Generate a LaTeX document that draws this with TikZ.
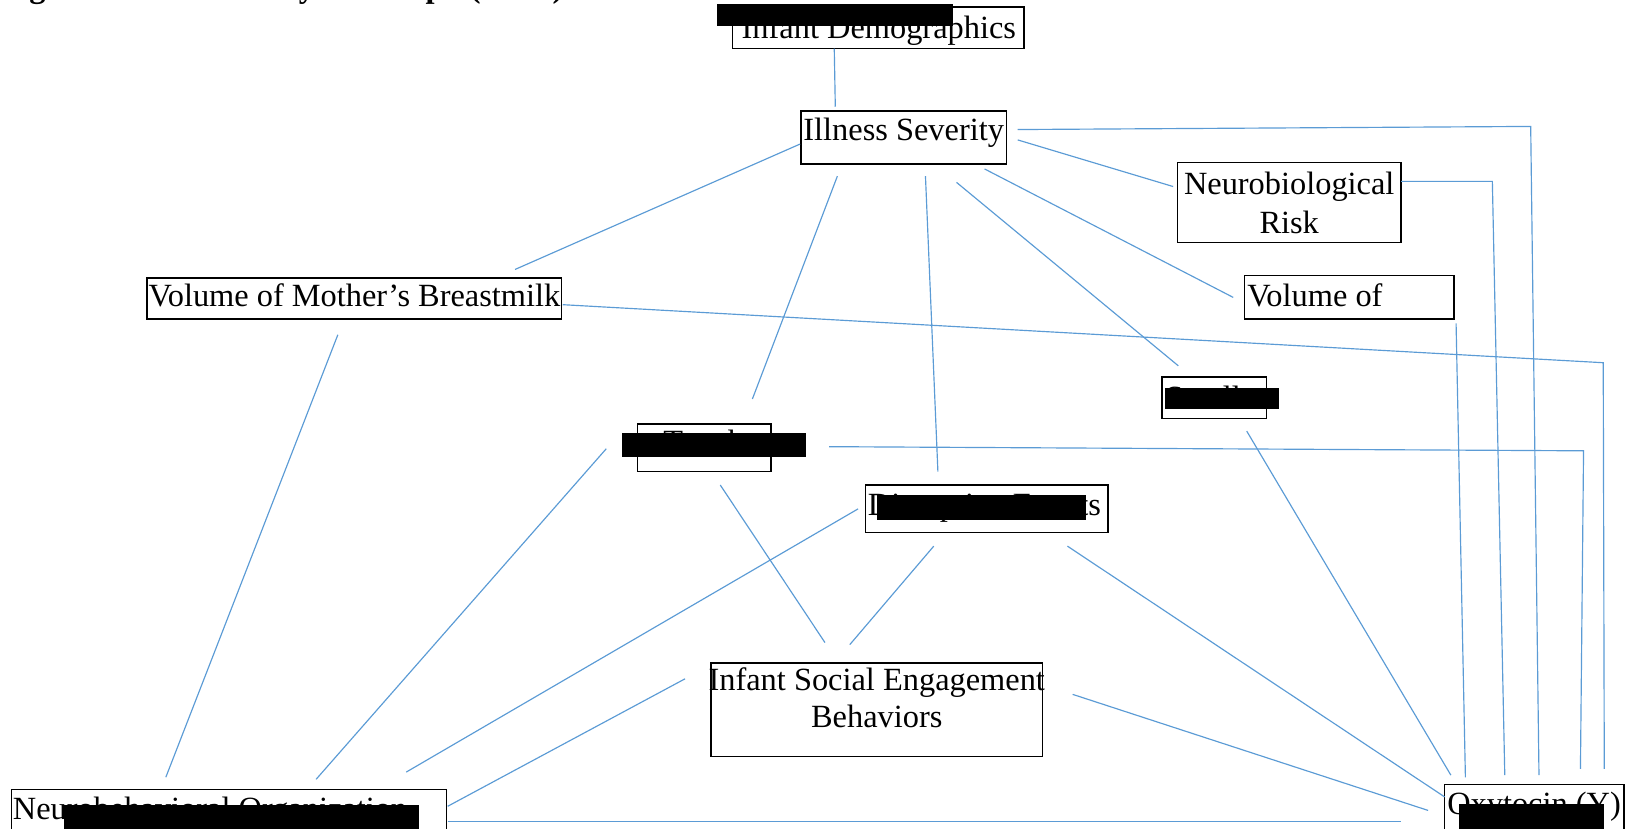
\documentclass[tikz,border=0pt]{standalone}
\usepackage{fontspec}
\setmainfont{Liberation Serif}
\usetikzlibrary{fit}
\begin{document}
\begin{tikzpicture}[x=0.4pt,y=-0.4pt,
  box/.style={draw=black,line width=0.6pt,inner sep=0pt,fill=none},
  blk/.style={fill=black,inner sep=0pt},
  txt/.style={inner sep=0pt,font=\fontsize{12.5}{14.6}\selectfont},
  conn/.style={draw={rgb,255:red,91;green,155;blue,213},line width=0.45pt}]
\useasboundingbox (0,0) rectangle (1568,799);
% title (cut off at top)
\node[txt,anchor=base west,font=\fontsize{12.5}{14.6}\selectfont\bfseries] (title) at (0,-2) {Figure 1. Directed Acyclic Graph (DAG)};
% boxes
\node[box,fit={(707,7)(988,47)}] (dem) {};
\node[box,fit={(773,107)(971,158)}] (ill) {};
\node[box,fit={(1136,157)(1352,234)}] (neu) {};
\node[box,fit={(1201,266)(1403,308)}] (vol) {};
\node[box,fit={(142,268)(542,308)}] (vmb) {};
\node[box,fit={(1121,364)(1222,404)}] (sen) {};
\node[box,fit={(615,409)(744,455)}] (tou) {};
\node[box,fit={(835,468)(1069,514)}] (dis) {};
\node[box,fit={(686,640)(1006,730)}] (ise) {};
\node[box,fit={(11,762)(431,815)}] (nbo) {};
\node[box,fit={(1394,757)(1567,815)}] (oxy) {};
% texts
\node[txt,anchor=base] (demT) at (848,37) {Infant Demographics};
\node[txt,anchor=base] (illT) at (872,136) {Illness Severity};
\node[txt,anchor=base] (neuT1) at (1244,188) {Neurobiological};
\node[txt,anchor=base] (neuT2) at (1244,225) {Risk};
\node[txt,anchor=base west] (volT) at (1203,296) {Volume of};
\node[txt,anchor=base] (vmbT) at (342,296) {Volume of Mother’s Breastmilk};
\node[txt,anchor=base west] (senT) at (1124,394) {Smell};
\node[txt,anchor=base] (touT) at (679,437) {Touch};
\node[txt,anchor=base west] (disT) at (837,497) {Disruptive Events};
\node[txt,anchor=base] (iseT1) at (846,666) {Infant Social Engagement};
\node[txt,anchor=base] (iseT2) at (846,702) {Behaviors};
\node[txt,anchor=base west] (nboT) at (12,791) {Neurobehavioral Organization};
\node[txt,anchor=base west] (oxyT) at (1396,786) {Oxytocin (Y)};
% redaction bars
\node[blk,fit={(692,4)(920,25)}] (r1) {};
\node[blk,fit={(1124,374)(1234,395)}] (r2) {};
\node[blk,fit={(600,418)(778,441)}] (r3) {};
\node[blk,fit={(846,478)(1048,502)}] (r4) {};
\node[blk,fit={(62,777)(404,805)}] (r5) {};
\node[blk,fit={(1408,776)(1548,805)}] (r6) {};
% connector end points
\coordinate (a1) at (805,47);   \coordinate (b1) at (806,103);
\coordinate (a2) at (772,139);  \coordinate (b2) at (497,260);
\coordinate (a3) at (808,170);  \coordinate (b3) at (726,385);
\coordinate (a4) at (893,170);  \coordinate (b4) at (905,455);
\coordinate (a5) at (923,176);  \coordinate (b5) at (1137,353);
\coordinate (a6) at (950,163);  \coordinate (b6) at (1190,287);
\coordinate (a7) at (982,135);  \coordinate (b7) at (1132,180);
\coordinate (a8) at (982,125);  \coordinate (k8) at (1477,122); \coordinate (b8) at (1485,748);
\coordinate (a9) at (1352,175); \coordinate (k9) at (1440,175); \coordinate (b9) at (1452,748);
\coordinate (a10) at (1405,312); \coordinate (b10) at (1414,750);
\coordinate (a11) at (543,294); \coordinate (k11) at (1547,350); \coordinate (b11) at (1548,742);
\coordinate (a12) at (800,431); \coordinate (k12) at (1528,435); \coordinate (b12) at (1525,742);
\coordinate (a13) at (1203,416); \coordinate (b13) at (1400,748);
\coordinate (a14) at (1030,527); \coordinate (b14) at (1394,769);
\coordinate (a15) at (1035,670); \coordinate (b15) at (1378,782);
\coordinate (a16) at (432,793); \coordinate (b16) at (1352,793);
\coordinate (a17) at (326,323); \coordinate (b17) at (160,750);
\coordinate (a18) at (585,433); \coordinate (b18) at (305,752);
\coordinate (a19) at (828,491); \coordinate (b19) at (392,745);
\coordinate (a20) at (661,655); \coordinate (b20) at (432,778);
\coordinate (a21) at (695,468); \coordinate (b21) at (796,620);
\coordinate (a22) at (901,527); \coordinate (b22) at (820,622);
% connectors
\draw[conn] (a1) -- (b1);
\draw[conn] (a2) -- (b2);
\draw[conn] (a3) -- (b3);
\draw[conn] (a4) -- (b4);
\draw[conn] (a5) -- (b5);
\draw[conn] (a6) -- (b6);
\draw[conn] (a7) -- (b7);
\draw[conn] (a8) -- (k8) -- (b8);
\draw[conn] (a9) -- (k9) -- (b9);
\draw[conn] (a10) -- (b10);
\draw[conn] (a11) -- (k11) -- (b11);
\draw[conn] (a12) -- (k12) -- (b12);
\draw[conn] (a13) -- (b13);
\draw[conn] (a14) -- (b14);
\draw[conn] (a15) -- (b15);
\draw[conn] (a16) -- (b16);
\draw[conn] (a17) -- (b17);
\draw[conn] (a18) -- (b18);
\draw[conn] (a19) -- (b19);
\draw[conn] (a20) -- (b20);
\draw[conn] (a21) -- (b21);
\draw[conn] (a22) -- (b22);
\end{tikzpicture}
\end{document}
